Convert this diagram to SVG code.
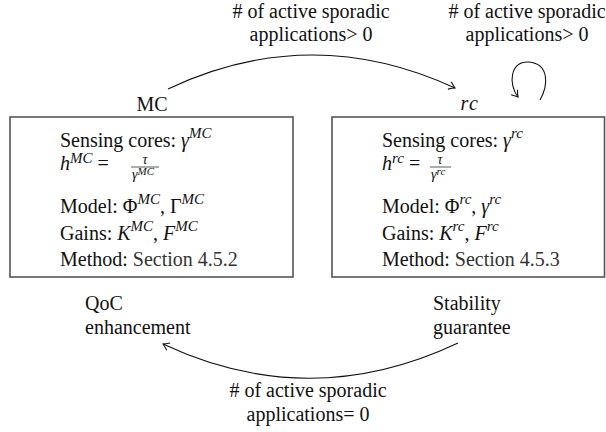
<svg xmlns="http://www.w3.org/2000/svg" width="606" height="432" viewBox="0 0 606 432">
<defs>
<style>
text{font-family:"Liberation Serif","Times New Roman",serif;font-size:20px;fill:#111}
.mi{font-style:italic}
.sup{font-style:italic;font-size:15px}
.fr{font-style:italic;font-size:14px}
.frs{font-style:italic;font-size:11px}
.sec{fill:#333}
.box{fill:#fff;stroke:#555;stroke-width:1.6}
.edge{fill:none;stroke:#111;stroke-width:1.1}
.bar{stroke:#111;stroke-width:0.7}
.c{text-anchor:middle}
</style>
<marker id="arr" viewBox="-7 -5 9 10" markerWidth="9" markerHeight="10" refX="0" refY="0" orient="auto" markerUnits="userSpaceOnUse">
<path d="M-6,-4 Q-2,-1 0,0 Q-2,1 -6,4" fill="none" stroke="#111" stroke-width="1.1"/>
</marker>
</defs>

<g id="connectors">
<path class="edge" d="M168,89 Q311,21.5 455,88" marker-end="url(#arr)"/>
<path class="edge" d="M540,100 C548,86 550,64 529,62 C510,61 508,84 518,97" marker-end="url(#arr)"/>
<path class="edge" d="M458,343 Q310,413 163,344" marker-end="url(#arr)"/>
</g>

<g id="label-top">
<text class="c" x="311" y="18"># of active sporadic</text>
<text class="c" x="311" y="41">applications&gt; 0</text>
</g>
<g id="label-loop">
<text class="c" x="527" y="18"># of active sporadic</text>
<text class="c" x="527" y="41">applications&gt; 0</text>
</g>
<g id="label-bottom">
<text class="c" x="308" y="397"># of active sporadic</text>
<text class="c" x="308" y="421">applications= 0</text>
</g>

<g id="node-MC">
<text class="c" x="152" y="111">MC</text>
<rect class="box" x="10" y="117" width="283" height="160"/>
<text x="60" y="147">Sensing cores: <tspan class="mi">γ</tspan><tspan class="sup" dy="-9">MC</tspan></text>
<text x="60" y="170"><tspan class="mi">h</tspan><tspan class="sup" dy="-7">MC</tspan><tspan dy="7"> = </tspan></text>
<text class="fr c" x="145" y="164">τ</text>
<line class="bar" x1="131" y1="167" x2="159" y2="167"/>
<text x="132" y="179"><tspan class="fr">γ</tspan><tspan class="frs" dy="-4">MC</tspan></text>
<text x="60" y="213">Model: Φ<tspan class="sup" dy="-9">MC</tspan><tspan dy="9">, Γ</tspan><tspan class="sup" dy="-9">MC</tspan></text>
<text x="60" y="240">Gains: <tspan class="mi">K</tspan><tspan class="sup" dy="-9">MC</tspan><tspan dy="9">, </tspan><tspan class="mi">F</tspan><tspan class="sup" dy="-9">MC</tspan></text>
<text x="60" y="266">Method: <tspan class="sec">Section 4.5.2</tspan></text>
<text x="85" y="310">QoC</text>
<text x="85" y="334">enhancement</text>
</g>

<g id="node-rc">
<text class="c mi" x="470" y="110" letter-spacing="1.5">rc</text>
<rect class="box" x="332" y="117" width="272.5" height="160"/>
<text x="382" y="147">Sensing cores: <tspan class="mi">γ</tspan><tspan class="sup" dy="-9">rc</tspan></text>
<text x="382" y="170"><tspan class="mi">h</tspan><tspan class="sup" dy="-7">rc</tspan><tspan dy="7"> = </tspan></text>
<text class="fr c" x="440" y="164">τ</text>
<line class="bar" x1="430" y1="167" x2="451" y2="167"/>
<text x="431" y="179"><tspan class="fr">γ</tspan><tspan class="frs" dy="-4">rc</tspan></text>
<text x="382" y="213">Model: Φ<tspan class="sup" dy="-9">rc</tspan><tspan dy="9">, </tspan><tspan class="mi">γ</tspan><tspan class="sup" dy="-9">rc</tspan></text>
<text x="382" y="240">Gains: <tspan class="mi">K</tspan><tspan class="sup" dy="-9">rc</tspan><tspan dy="9">, </tspan><tspan class="mi">F</tspan><tspan class="sup" dy="-9">rc</tspan></text>
<text x="382" y="266">Method: <tspan class="sec">Section 4.5.3</tspan></text>
<text x="433" y="310">Stability</text>
<text x="433" y="334">guarantee</text>
</g>
</svg>
